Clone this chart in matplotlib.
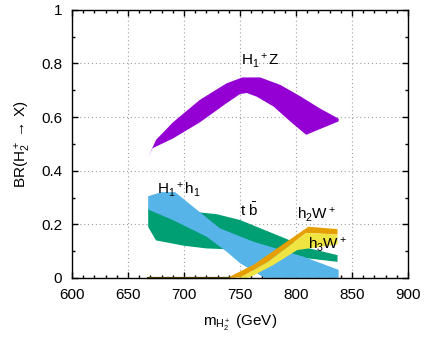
import numpy as np
import matplotlib.pyplot as plt
from matplotlib.ticker import MultipleLocator, FuncFormatter

# =====================================================
# DATA (band edges)
# =====================================================

# H1+ Z  (purple)
hz_up_x = [668, 675, 690, 700, 714, 738, 752, 768, 786, 804, 821, 838]
hz_up_y = [0.45, 0.515, 0.58, 0.615, 0.664, 0.726, 0.748, 0.748, 0.72, 0.677, 0.633, 0.594]
hz_lo_x = [668, 672, 690, 700, 714, 738, 750, 756, 765, 780, 795, 809, 838]
hz_lo_y = [0.45, 0.484, 0.52, 0.545, 0.58, 0.652, 0.686, 0.69, 0.676, 0.639, 0.583, 0.534, 0.584]

# t bbar  (green)
tb_up_x = [668, 700, 729, 750, 790, 812, 837]
tb_up_y = [0.26, 0.25, 0.238, 0.216, 0.148, 0.11, 0.085]
tb_lo_x = [668, 675, 700, 720, 780, 810, 837]
tb_lo_y = [0.19, 0.14, 0.12, 0.11, 0.1, 0.073, 0.06]

# H1+ h1  (blue)
hh_up_x = [668, 680, 692, 732, 762, 806, 838]
hh_up_y = [0.305, 0.32, 0.32, 0.185, 0.135, 0.08, 0.03]
hh_lo_x = [668, 690, 720, 738, 750, 772, 838]
hh_lo_y = [0.255, 0.216, 0.154, 0.098, 0.055, 0.0, 0.0]

# h2 W+  (orange)
h2w_up_x = [735, 741, 762, 811, 837]
h2w_up_y = [0.0, 0.005, 0.049, 0.191, 0.182]
h2w_lo_x = [745, 752, 775, 809, 837]
h2w_lo_y = [0.0, 0.005, 0.06, 0.168, 0.162]

# h3 W+  (yellow)
h3w_up_x = h2w_lo_x
h3w_up_y = h2w_lo_y
h3w_lo_x = [755, 760, 780, 801, 837]
h3w_lo_y = [0.0, 0.005, 0.049, 0.104, 0.125]

# points sitting on BR = 0
zero_x = [668, 740]
zero_y = [0.0, 0.0]

# =====================================================
# STYLE
# =====================================================

plt.rcParams["font.family"] = ["Liberation Sans", "DejaVu Sans"]
plt.rcParams["mathtext.fontset"] = "custom"
plt.rcParams["mathtext.rm"] = "Liberation Sans"
plt.rcParams["mathtext.it"] = "Liberation Sans"

fig = plt.figure(figsize=(4.26, 3.41), dpi=100)
ax = fig.add_axes([0.169, 0.185, 0.789, 0.786])


def band(ux, uy, lx, ly, color, z):
    xs = np.concatenate([ux, lx[::-1]])
    ys = np.concatenate([uy, ly[::-1]])
    ax.fill(xs, ys, color=color, lw=0, zorder=z)


band(hz_up_x, hz_up_y, hz_lo_x, hz_lo_y, "#9400D3", 3)
band(tb_up_x, tb_up_y, tb_lo_x, tb_lo_y, "#009E73", 3)
band(hh_up_x, hh_up_y, hh_lo_x, hh_lo_y, "#56B4E9", 4)
band(h2w_up_x, h2w_up_y, h2w_lo_x, h2w_lo_y, "#E69F00", 5)
band(h3w_up_x, h3w_up_y, h3w_lo_x, h3w_lo_y, "#F0E442", 5)

ax.plot(zero_x, zero_y, color="#5a4a00", lw=1.6, zorder=6, clip_on=False)

# =====================================================
# LABELS
# =====================================================

fs = 11
ax.text(768, 0.81, r"H$_1{}^+$Z", fontsize=fs, ha="center", va="center", zorder=7)
ax.text(676, 0.33, r"H$_1{}^+$h$_1$", fontsize=fs, ha="left", va="center", zorder=7)
ax.text(750, 0.255, r"t $\bar{\rm b}$", fontsize=fs, ha="left", va="center", zorder=7)
ax.text(801, 0.235, r"h$_2$W$^+$", fontsize=fs, ha="left", va="center", zorder=7)
ax.text(811, 0.125, r"h$_3$W$^+$", fontsize=fs, ha="left", va="center", zorder=7)

# =====================================================
# AXES
# =====================================================

ax.set_xlim(600, 900)
ax.set_ylim(0, 1)

ax.xaxis.set_major_locator(MultipleLocator(50))
ax.xaxis.set_minor_locator(MultipleLocator(10))
ax.yaxis.set_major_locator(MultipleLocator(0.2))
ax.yaxis.set_minor_locator(MultipleLocator(0.1))
ax.yaxis.set_major_formatter(FuncFormatter(lambda v, p: f"{v:g}"))

ax.tick_params(which="both", direction="in", top=True, right=True, labelsize=fs)
ax.tick_params(which="major", length=4.5, width=1, pad=7)
ax.tick_params(which="minor", length=2.3, width=1)

ax.grid(True, which="major", linestyle=(0, (1, 2.5)), color="#a0a0a0", lw=0.8)
ax.set_axisbelow(True)

for s in ax.spines.values():
    s.set_linewidth(1.0)
    s.set_zorder(8)

ax.set_xlabel(r"m$_{\rm H_2^+}$ (GeV)", fontsize=fs, labelpad=8)
ax.set_ylabel(r"BR(H$_2^+$ → X)", fontsize=fs, labelpad=6)

fig.savefig("out.png", dpi=100)
